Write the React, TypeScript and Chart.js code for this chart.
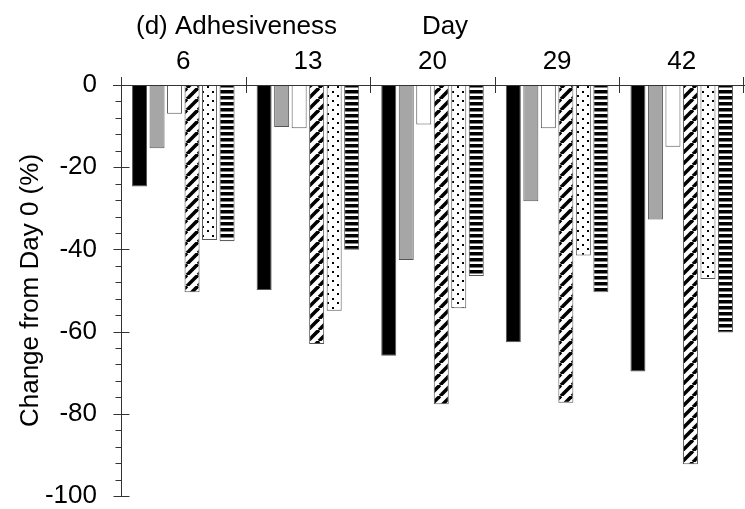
import React, { useEffect, useRef } from "react";
import { Chart, registerables } from "chart.js";

Chart.register(...registerables);

// Storage day (categories along the top axis)
const days = ["6", "13", "20", "29", "42"];

// Change in adhesiveness from Day 0 (%), one list per treatment
const seriesA = [-24.7, -49.9, -65.9, -62.6, -69.7];
const seriesB = [-15.4, -10.2, -42.6, -28.3, -32.7];
const seriesC = [-7.0, -10.5, -9.6, -10.5, -15.0];
const seriesD = [-50.4, -63.0, -77.7, -77.3, -92.3];
const seriesE = [-37.7, -54.9, -54.3, -41.5, -47.2];
const seriesF = [-38.0, -40.1, -46.5, -50.4, -60.2];

const yTicks = [0, -20, -40, -60, -80, -100];

const FONT = "'Liberation Sans', Arial, sans-serif";
const FONT_SIZE = 26;
const LINE = "#333";

function makePattern(kind: "hatch" | "dots" | "stripes"): CanvasPattern | string {
  const c = document.createElement("canvas");
  const ctx = c.getContext("2d");
  if (!ctx) return "#fff";
  if (kind === "hatch") {
    const s = 11;
    c.width = s;
    c.height = s;
    ctx.fillStyle = "#fff";
    ctx.fillRect(0, 0, s, s);
    ctx.strokeStyle = "#000";
    ctx.lineWidth = 3.6;
    for (const off of [-s, 0, s]) {
      ctx.beginPath();
      ctx.moveTo(off, s);
      ctx.lineTo(off + s, 0);
      ctx.stroke();
    }
  } else if (kind === "dots") {
    c.width = 10;
    c.height = 9;
    ctx.fillStyle = "#fff";
    ctx.fillRect(0, 0, 10, 9);
    ctx.fillStyle = "#000";
    ctx.fillRect(2, 1, 2, 2);
    ctx.fillRect(7, 5, 2, 2);
  } else {
    c.width = 6;
    c.height = 6;
    ctx.fillStyle = "#fff";
    ctx.fillRect(0, 0, 6, 6);
    ctx.fillStyle = "#000";
    ctx.fillRect(0, 0, 6, 3.5);
  }
  return ctx.createPattern(c, "repeat") || "#fff";
}

// Axis lines, crossing tick marks, minor ticks and the headings
const framePlugin = {
  id: "frame",
  afterDraw(chart: any) {
    const { ctx, chartArea, scales } = chart;
    const x = scales.x;
    const y = scales.y;
    const top = chartArea.top;
    ctx.save();
    ctx.strokeStyle = LINE;
    ctx.lineWidth = 1;
    ctx.beginPath();
    // zero line / top axis
    ctx.moveTo(chartArea.left - 8, Math.round(top) + 0.5);
    ctx.lineTo(chart.width, Math.round(top) + 0.5);
    // left axis
    const ax = Math.round(chartArea.left) + 0.5;
    ctx.moveTo(ax, top - 8);
    ctx.lineTo(ax, chartArea.bottom);
    // major y ticks cross the axis
    for (const v of yTicks) {
      const py = Math.round(y.getPixelForValue(v)) + 0.5;
      ctx.moveTo(ax - 8, py);
      ctx.lineTo(ax + 8, py);
    }
    // minor y ticks
    for (let v = 0; v >= -100; v -= 4) {
      if (v % 20 === 0) continue;
      const py = Math.round(y.getPixelForValue(v)) + 0.5;
      ctx.moveTo(ax - 6, py);
      ctx.lineTo(ax, py);
    }
    // category boundaries on top axis
    const n = days.length;
    const step = x.getPixelForValue(1) - x.getPixelForValue(0);
    for (let i = 1; i <= n; i++) {
      let bx = Math.round(x.getPixelForValue(i - 1) + step / 2) + 0.5;
      bx = Math.min(bx, chart.width - 1.5);
      ctx.moveTo(bx, top - 8);
      ctx.lineTo(bx, top + 8);
    }
    ctx.stroke();

    ctx.fillStyle = "#000";
    ctx.font = `${FONT_SIZE}px ${FONT}`;
    ctx.textBaseline = "alphabetic";
    ctx.textAlign = "left";
    ctx.fillText("(d) Adhesiveness", 136, 34);
    ctx.textAlign = "center";
    ctx.fillText("Day", 445, 34);
    ctx.restore();
  },
};

export default function App() {
  const ref = useRef<HTMLCanvasElement | null>(null);

  useEffect(() => {
    if (!ref.current) return;
    const border = "#555";
    const common = {
      borderColor: border,
      borderWidth: 1,
      borderSkipped: false,
      categoryPercentage: 0.843,
      barPercentage: 0.857,
    };
    const chart = new Chart(ref.current, {
      type: "bar",
      data: {
        labels: days,
        datasets: [
          { label: "A", data: seriesA, backgroundColor: "#000", ...common },
          { label: "B", data: seriesB, backgroundColor: "#a6a6a6", ...common },
          { label: "C", data: seriesC, backgroundColor: "#fff", ...common },
          { label: "D", data: seriesD, backgroundColor: makePattern("hatch"), ...common },
          { label: "E", data: seriesE, backgroundColor: makePattern("dots"), ...common },
          { label: "F", data: seriesF, backgroundColor: makePattern("stripes"), ...common },
        ] as any,
      },
      options: {
        animation: false,
        responsive: false,
        devicePixelRatio: 1,
        layout: { padding: { left: 0, right: 1, top: 0, bottom: 13 } },
        plugins: { legend: { display: false }, tooltip: { enabled: false } },
        scales: {
          x: {
            position: "top",
            grid: { display: false, drawTicks: false },
            border: { display: false },
            ticks: {
              color: "#000",
              font: { family: FONT, size: FONT_SIZE },
              padding: 8,
              maxRotation: 0,
            },
            afterFit(scale: any) {
              scale.height = 85;
              scale.paddingLeft = 0;
              scale.paddingRight = 0;
            },
          },
          y: {
            min: -100,
            max: 0,
            grid: { display: false, drawTicks: false },
            border: { display: false },
            ticks: {
              stepSize: 20,
              color: "#000",
              font: { family: FONT, size: FONT_SIZE },
              padding: 24,
            },
            title: {
              display: true,
              text: "Change from Day 0 (%)",
              color: "#000",
              font: { family: FONT, size: FONT_SIZE },
              padding: { top: 15, bottom: 0 },
            },
            afterFit(scale: any) {
              scale.width = 121;
              scale.paddingTop = 0;
              scale.paddingBottom = 0;
            },
          },
        },
      } as any,
      plugins: [framePlugin],
    });
    return () => chart.destroy();
  }, []);

  return (
    <div style={{ position: "absolute", left: 0, top: 0, width: 745, height: 509, background: "#fff" }}>
      <canvas ref={ref} width={745} height={509} style={{ display: "block" }} />
    </div>
  );
}
